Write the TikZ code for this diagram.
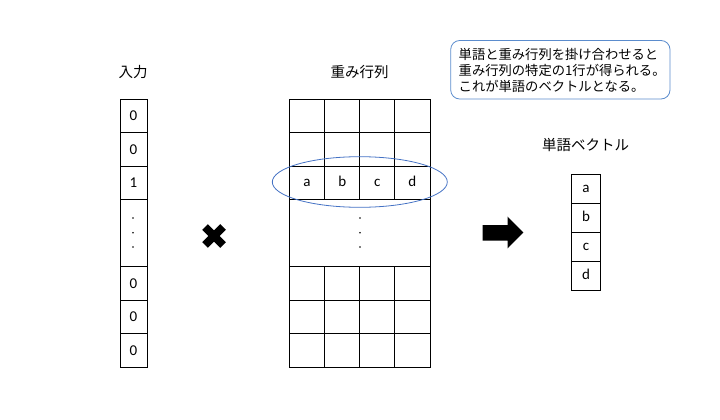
\documentclass[tikz,border=0pt]{standalone}
\usepackage{fontspec}
\setmainfont{Carlito}
\newfontfamily\jpfont{Noto Sans CJK JP}
\usepackage{tikz}
\definecolor{ovalblue}{RGB}{68,114,196}
\definecolor{boxblue}{RGB}{91,140,205}

\begin{document}
\begin{tikzpicture}[x=1pt,y=-1pt]
				\tikzstyle{every node}+=[inner sep=0pt]
				\tikzstyle{digit}=[font=\fontsize{15}{17}\selectfont,text height=9.4pt,text depth=0pt]
				\tikzstyle{letter}=[font=\fontsize{15}{17}\selectfont,text height=7pt,text depth=0pt]
				\tikzstyle{title}=[font=\jpfont\fontsize{14.5}{17}\selectfont]
				\useasboundingbox (0,0) rectangle (720,420);
				% input vector
				\draw (133,72) node [title] (inlabel) {入力};
				\draw [black,line width=0.8pt] (120,99) rectangle (147,367);
				\draw [black,line width=0.8pt] (120,132.7) -- (147,132.7);
				\draw [black,line width=0.8pt] (120,166.3) -- (147,166.3);
				\draw [black,line width=0.8pt] (120,199.7) -- (147,199.7);
				\draw [black,line width=0.8pt] (120,266.7) -- (147,266.7);
				\draw [black,line width=0.8pt] (120,300) -- (147,300);
				\draw [black,line width=0.8pt] (120,333.7) -- (147,333.7);
				\draw (133.5,116) node [digit] (in1) {0};
				\draw (133.5,149.5) node [digit] (in2) {0};
				\draw (133.5,183) node [digit] (in3) {1};
				\fill [black] (133,218) circle (0.9);
				\fill [black] (133,232.7) circle (0.9);
				\fill [black] (133,247) circle (0.9);
				\draw (133.5,283.3) node [digit] (in4) {0};
				\draw (133.5,317) node [digit] (in5) {0};
				\draw (133.5,350.3) node [digit] (in6) {0};
				% times mark
				\draw [black,line width=8pt] (205,227) -- (223,245);
				\draw [black,line width=8pt] (223,227) -- (205,245);
				% weight matrix
				\draw (359.7,72) node [title] (wlabel) {重み行列};
				\draw [black,line width=0.8pt] (289.3,99) rectangle (430,367);
				\draw [black,line width=0.8pt] (289.3,132.7) -- (430,132.7);
				\draw [black,line width=0.8pt] (289.3,166.3) -- (430,166.3);
				\draw [black,line width=0.8pt] (289.3,199.7) -- (430,199.7);
				\draw [black,line width=0.8pt] (289.3,266.7) -- (430,266.7);
				\draw [black,line width=0.8pt] (289.3,300) -- (430,300);
				\draw [black,line width=0.8pt] (289.3,333.7) -- (430,333.7);
				\draw [black,line width=0.8pt] (324.7,99) -- (324.7,199.7);
				\draw [black,line width=0.8pt] (359.7,99) -- (359.7,199.7);
				\draw [black,line width=0.8pt] (394.7,99) -- (394.7,199.7);
				\draw [black,line width=0.8pt] (324.7,266.7) -- (324.7,367);
				\draw [black,line width=0.8pt] (359.7,266.7) -- (359.7,367);
				\draw [black,line width=0.8pt] (394.7,266.7) -- (394.7,367);
				\draw (307,183) node [letter] (wa) {a};
				\draw (342.2,183) node [letter] (wb) {b};
				\draw (377.2,183) node [letter] (wc) {c};
				\draw (412.3,183) node [letter] (wd) {d};
				\fill [black] (360,218) circle (0.9);
				\fill [black] (360,232.7) circle (0.9);
				\fill [black] (360,247) circle (0.9);
				\draw [ovalblue,line width=0.8pt] (359.8,182) ellipse (87.5pt and 25.3pt);
				% result arrow
				\fill [black] (482.7,225) -- (507.7,225) -- (507.7,216.7) -- (523.3,232.5)
					-- (507.7,248.3) -- (507.7,240.7) -- (482.7,240.7) -- cycle;
				% word vector
				\draw (585.5,145) node [title] (vlabel) {単語ベクトル};
				\draw [black,line width=0.8pt] (571.7,174) rectangle (600.3,290);
				\draw [black,line width=0.8pt] (571.7,203.3) -- (600.3,203.3);
				\draw [black,line width=0.8pt] (571.7,232.3) -- (600.3,232.3);
				\draw [black,line width=0.8pt] (571.7,261.3) -- (600.3,261.3);
				\draw (586,188.7) node [letter] (va) {a};
				\draw (586,217.8) node [letter] (vb) {b};
				\draw (586,246.8) node [letter] (vc) {c};
				\draw (586,275.7) node [letter] (vd) {d};
				% note
				\draw [boxblue,line width=0.8pt,rounded corners=9pt] (450.7,40.5) rectangle (670,99);
				\draw (458.5,70) node [anchor=west,align=left,font=\jpfont\fontsize{13.3}{16}\selectfont] (note)
					{単語と重み行列を掛け合わせると\\重み行列の特定の1行が得られる。\\これが単語のベクトルとなる。};
\end{tikzpicture}
\end{document}
